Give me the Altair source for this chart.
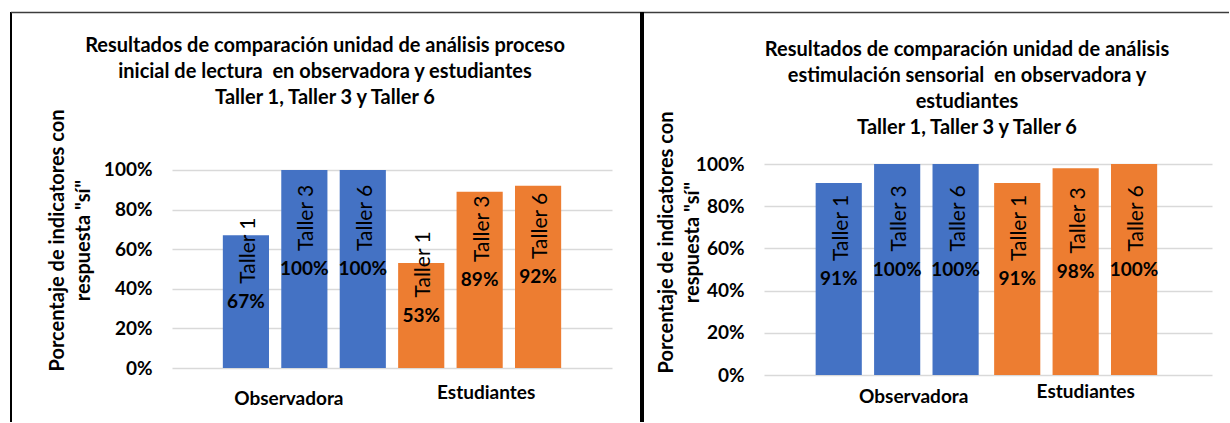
import altair as alt
import pandas as pd

# ---- data ----
grupos = ["Observadora", "Observadora", "Observadora", "Estudiantes", "Estudiantes", "Estudiantes"]
talleres = ["Taller 1", "Taller 3", "Taller 6", "Taller 1", "Taller 3", "Taller 6"]
valores_lectura = [0.67, 1.00, 1.00, 0.53, 0.89, 0.92]
valores_sensorial = [0.91, 1.00, 1.00, 0.91, 0.98, 1.00]
orden_grupos = ["Observadora", "Estudiantes"]
orden_talleres = ["Taller 1", "Taller 3", "Taller 6"]
colores = ["#4472C4", "#ED7D31"]
ticks_y = [0, 0.2, 0.4, 0.6, 0.8, 1.0]
titulo_lectura = [
    "Resultados de comparación unidad de análisis proceso",
    "inicial de lectura\u00a0 en observadora y estudiantes",
    "Taller 1, Taller 3 y Taller 6",
]
titulo_sensorial = [
    "Resultados de comparación unidad de análisis",
    "estimulación sensorial\u00a0 en observadora y",
    "estudiantes",
    "Taller 1, Taller 3 y Taller 6",
]
titulo_eje_y = ["Porcentaje de indicatores con", 'respuesta "sí"']

FONT = "Lato"
FS = 19
FS_TITLE = 20
FS_NAME = 21


def panel(valores, titulo, width, height, ymax, title_dx, title_offset,
          ytitle_x, ytitle_y, off_obs, off_est, pad_obs, pad_est):
    df = pd.DataFrame({"Grupo": grupos, "Taller": talleres, "Valor": valores})
    es_obs = "datum.value == 'Observadora'"
    x_enc = alt.X(
        "Grupo:N", sort=orden_grupos, title=None,
        scale=alt.Scale(paddingInner=0, paddingOuter=0.255),
        axis=alt.Axis(
            labelAngle=0, ticks=False, domain=False, grid=False,
            labelFont=FONT, labelFontSize=FS, labelFontWeight="bold", labelColor="black",
            labelOffset={"condition": {"test": es_obs, "value": off_obs}, "value": off_est},
            labelPadding={"condition": {"test": es_obs, "value": pad_obs}, "value": pad_est},
        ),
    )
    xo_enc = alt.XOffset("Taller:N", sort=orden_talleres,
                         scale=alt.Scale(paddingInner=0.21, paddingOuter=0.105))
    y_scale = alt.Scale(domain=[0, ymax], nice=False, zero=True)
    y_axis = alt.Axis(
        values=ticks_y, format=".0%", title=titulo_eje_y,
        ticks=False, domain=False, grid=True, gridColor="#D9D9D9", gridWidth=1.5,
        labelFont=FONT, labelFontSize=FS, labelFontWeight="bold", labelColor="black",
        labelPadding=20,
        titleFont=FONT, titleFontSize=FS_TITLE, titleFontWeight="bold", titleColor="black",
        titleAngle=270, titleAlign="center", titleBaseline="middle",
        titleX=ytitle_x, titleY=ytitle_y, titleLineHeight=26,
    )
    base = alt.Chart(df).encode(x=x_enc, xOffset=xo_enc)
    bars = base.mark_bar().encode(
        y=alt.Y("Valor:Q", scale=y_scale, axis=y_axis),
        color=alt.Color("Grupo:N", scale=alt.Scale(domain=orden_grupos, range=colores), legend=None),
    )
    mid = base.transform_calculate(mitad="datum.Valor / 2")
    val_txt = mid.mark_text(
        font=FONT, fontSize=FS, fontWeight="bold", color="black",
        align="center", baseline="middle",
    ).encode(
        y=alt.Y("mitad:Q", scale=y_scale, axis=y_axis),
        text=alt.Text("Valor:Q", format=".0%"),
    )
    name_txt = mid.mark_text(
        font=FONT, fontSize=FS_NAME, color="black", angle=270,
        align="left", baseline="middle", dx=18, dy=3,
    ).encode(
        y=alt.Y("mitad:Q", scale=y_scale, axis=y_axis),
        text=alt.Text("Taller:N"),
    )
    return alt.layer(bars, val_txt, name_txt).properties(
        width=width, height=height,
        title=alt.Title(
            text=titulo, font=FONT, fontSize=FS_TITLE, fontWeight="bold", color="black",
            lineHeight=26, anchor="middle", frame="group", dx=title_dx, offset=title_offset,
        ),
    )


left = panel(valores_lectura, titulo_lectura, 440, 204, 1.0303, -67, 1,
             -115, 76, -15.5, 6.5, 21, 15)
right = panel(valores_sensorial, titulo_sensorial, 448, 211, 1.0, -21, -27,
              -98, 78, 15, 8.5, 12, 7)

# ---- frame lines of the original figure ----
deco_data = alt.Data(values=[{"k": 0}])
borde_izq = alt.Chart(deco_data).mark_rule(color="black", strokeWidth=2).encode(
    x=alt.value(1), y=alt.value(-152), y2=alt.value(258))
borde_sup = alt.Chart(deco_data).mark_rule(color="#3c3c3c", strokeWidth=1.5).encode(
    x=alt.value(1), x2=alt.value(1219), y=alt.value(-151.5))
borde_medio = alt.Chart(deco_data).mark_rule(color="black", strokeWidth=4).encode(
    x=alt.value(632), y=alt.value(-152), y2=alt.value(258))
deco = alt.layer(borde_izq, borde_sup, borde_medio).properties(width=10, height=204)

chart = alt.hconcat(
    deco, left, right, spacing=152, bounds="flush",
    padding={"left": 10, "top": 10, "right": 0, "bottom": 0},
).configure_view(strokeWidth=0)

chart.save("out.html", embed_options={"renderer": "svg", "actions": False})
